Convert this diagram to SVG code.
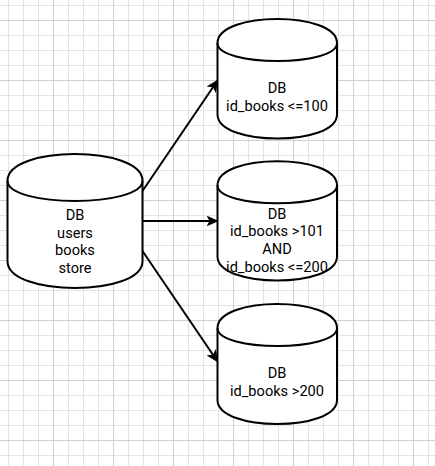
<svg xmlns="http://www.w3.org/2000/svg" width="435" height="466" viewBox="0 0 435 466">
  <style>
    .cyl { fill: #ffffff; stroke: #000000; stroke-width: 2; }
    .cylin { fill: none; stroke: #000000; stroke-width: 2; }
    .lbl { font-family: Roboto, "Liberation Sans", sans-serif; font-size: 14.6px; fill: #000000; text-anchor: middle; }
    .edge { fill: none; stroke: #000000; stroke-width: 2; }
  </style>
  <defs>
    <pattern id="minor" x="8" y="5" width="15" height="15" patternUnits="userSpaceOnUse">
      <path d="M0.5,0 V15 M0,0.5 H15" stroke="#e3e3e3" stroke-width="1" fill="none"/>
    </pattern>
    <pattern id="major" x="53" y="20" width="60" height="60" patternUnits="userSpaceOnUse">
      <path d="M0.5,0 V60 M0,0.5 H60" stroke="#d0d0d0" stroke-width="1" fill="none"/>
    </pattern>
    <marker id="arr" markerUnits="userSpaceOnUse" markerWidth="20" markerHeight="20" refX="0" refY="0" viewBox="-10 -10 20 20" orient="auto" overflow="visible">
      <path d="M7.5,0 L-2.5,-4.5 L0,0 L-2.5,4.5 Z" fill="#000000" stroke="#000000" stroke-width="1" stroke-linejoin="miter"/>
    </marker>
  </defs>
  <rect x="0" y="0" width="435" height="466" fill="#ffffff"/>
  <rect x="0" y="0" width="435" height="466" fill="url(#minor)"/>
  <rect x="0" y="0" width="435" height="466" fill="url(#major)"/>

  <g id="connectors">
    <path class="edge" d="M142.5,191 L213.29,86.71" marker-end="url(#arr)"/>
    <path class="edge" d="M142.5,221 L210,221" marker-end="url(#arr)"/>
    <path class="edge" d="M142.5,251 L213.29,355.29" marker-end="url(#arr)"/>
  </g>

  <g id="db-main">
    <path class="cyl" d="M7.5,180.8 C7.5,145.07 142.5,145.07 142.5,180.8 L142.5,261.2 C142.5,296.93 7.5,296.93 7.5,261.2 Z"/>
    <path class="cylin" d="M7.5,180.8 C7.5,207.6 142.5,207.6 142.5,180.8"/>
    <text class="lbl" x="75" y="220">DB</text>
    <text class="lbl" x="75" y="237.5">users</text>
    <text class="lbl" x="75" y="255">books</text>
    <text class="lbl" x="75" y="272.5">store</text>
  </g>

  <g id="db-1">
    <path class="cyl" d="M217.5,43 C217.5,11 337,11 337,43 L337,114.5 C337,146.5 217.5,146.5 217.5,114.5 Z"/>
    <path class="cylin" d="M217.5,43 C217.5,67 337,67 337,43"/>
    <text class="lbl" x="277" y="93.3">DB</text>
    <text class="lbl" x="277" y="110.7">id_books &lt;=100</text>
  </g>

  <g id="db-2">
    <path class="cyl" d="M217.5,185.3 C217.5,153.3 337,153.3 337,185.3 L337,256.5 C337,288.5 217.5,288.5 217.5,256.5 Z"/>
    <path class="cylin" d="M217.5,185.3 C217.5,209.3 337,209.3 337,185.3"/>
    <text class="lbl" x="277" y="218.7">DB</text>
    <text class="lbl" x="277" y="236.2">id_books &gt;101</text>
    <text class="lbl" x="277" y="253.9">AND</text>
    <text class="lbl" x="277" y="271.5">id_books &lt;=200</text>
  </g>

  <g id="db-3">
    <path class="cyl" d="M217.5,328 C217.5,296 337,296 337,328 L337,400 C337,432 217.5,432 217.5,400 Z"/>
    <path class="cylin" d="M217.5,328 C217.5,352 337,352 337,328"/>
    <text class="lbl" x="277" y="378.3">DB</text>
    <text class="lbl" x="277" y="395.7">id_books &gt;200</text>
  </g>
</svg>
